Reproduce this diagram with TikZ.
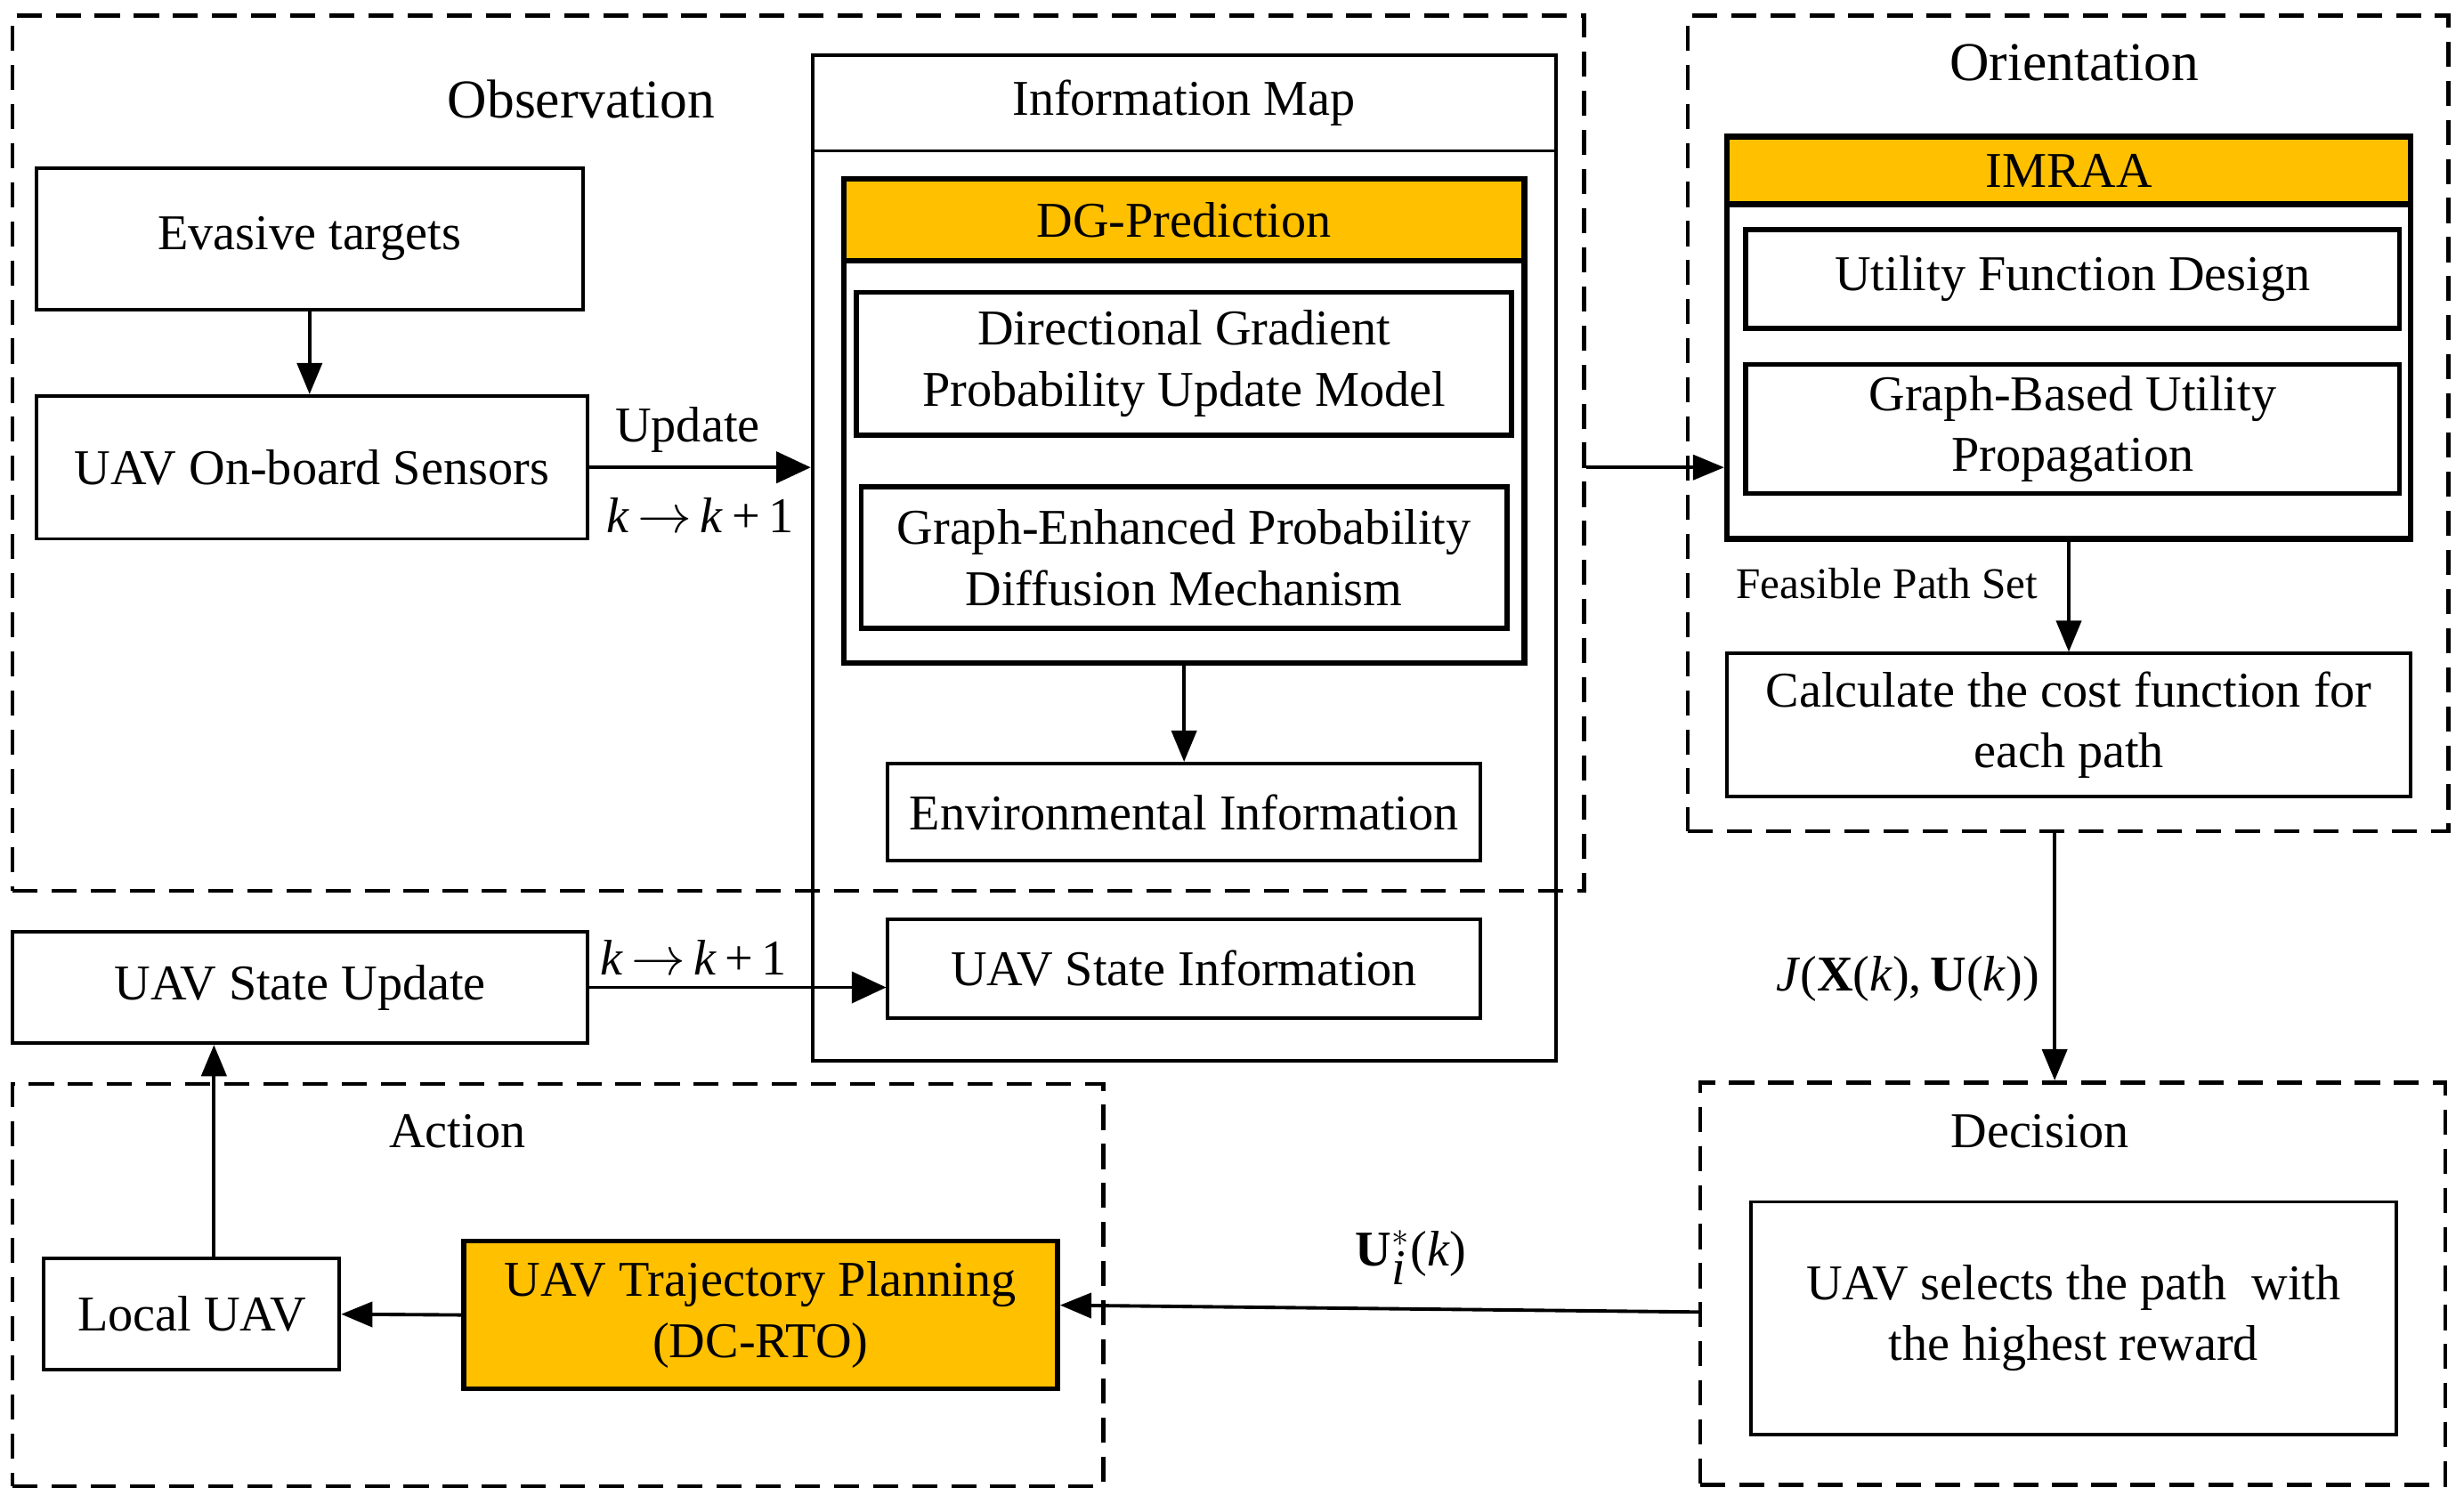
\documentclass[tikz,border=0pt]{standalone}
\usepackage{fontspec}
\setmainfont{Liberation Serif}
\usetikzlibrary{arrows.meta}
\definecolor{gold}{RGB}{255,192,0}
\newlength\pxu
\setlength\pxu{0.17653mm}

\begin{document}
\begin{tikzpicture}[x=\pxu, y=-\pxu,
      font=\fontsize{16}{19.5}\selectfont,
      size/.style 2 args={minimum width=#1*\pxu, minimum height=#2*\pxu},
      box/.style={rectangle, draw, line width=1.1pt, inner sep=0pt, align=center},
      inner/.style={box, line width=1.6pt},
      frame/.style={rectangle, draw, line width=1.8pt, inner sep=0pt},
      head/.style={frame, fill=gold, align=center},
      stage/.style={rectangle, draw, line width=1.3pt, dash pattern=on 8pt off 4.5pt, inner sep=0pt},
      title/.style={font=\fontsize{17.5}{21}\selectfont},
      arrow/.style={-{Triangle[length=10pt,width=8pt]}, line width=1.1pt},
      bigarrow/.style={arrow, -{Triangle[length=11pt,width=10pt]}}
  ]
  \useasboundingbox (0,0) rectangle (1568,957);

  % Stages
  \node[stage, size={1000}{557}] (obs) at (508,288.5) {};
  \node[title] (obslabel) at (370,63) {Observation};
  \node[stage, size={484}{519}] (orient) at (1316,269.5) {};
  \node[title] (orientlabel) at (1320,40) {Orientation};
  \node[stage, size={474}{256}] (decision) at (1319,817) {};
  \node (decisionlabel) at (1298,720) {Decision};
  \node[stage, size={694}{256}] (action) at (355,818) {};
  \node (actionlabel) at (291,720) {Action};

  % Observation
  \node[box, size={348}{90}] (evasive) at (197,152) {Evasive targets};
  \node[box, size={351}{91}] (sensors) at (198.5,297.5) {UAV On-board Sensors};

  % Information map
  \node[box, size={473}{640}] (infomap) at (753.5,355) {};
  \node[box, size={473}{61}] (infohead) at (753.5,65.5) {Information Map};
  \node[frame, size={433}{308}] (dg) at (753.5,268) {};
  \node[head, size={433}{52}] (dghead) at (753.5,140) {DG-Prediction};
  \node[inner, size={417}{91}] (dgpu) at (753.5,231.5) {Directional Gradient\\Probability Update Model};
  \node[inner, size={411}{90}] (gepd) at (753.5,355) {Graph-Enhanced Probability\\Diffusion Mechanism};
  \node[box, size={377}{62}] (env) at (753.5,517) {Environmental Information};
  \node[box, size={377}{63}] (stateinfo) at (753.5,616.5) {UAV State Information};

  % Orientation
  \node[frame, size={435}{256}] (imraa) at (1316.5,215) {};
  \node[head, size={435}{43}] (imraahead) at (1316.5,108.5) {IMRAA};
  \node[inner, size={416}{63}] (utility) at (1319,177.5) {Utility Function Design};
  \node[inner, size={416}{82}] (propagation) at (1319,273) {Graph-Based Utility\\Propagation};
  \node[box, size={435}{91}] (cost) at (1316.5,461.5) {Calculate the cost function for\\each path};

  % Decision
  \node[box, size={411}{148}] (select) at (1319.5,839) {UAV selects the path\ \ with\\the highest reward};

  % Action
  \node[box, fill=gold, line width=1.6pt, size={378}{94}] (traj) at (484,837) {UAV Trajectory Planning\\(DC-RTO)};
  \node[box, size={188}{71}] (local) at (122,836.5) {Local UAV};
  \node[box, size={366}{71}] (stateupd) at (191,628.5) {UAV State Update};

  % Arrows
  \draw[arrow] (evasive.south) -- (evasive.south |- sensors.north);
  \draw[bigarrow] (sensors.east) -- (sensors.east -| infomap.west)
    node[midway, above=1pt, xshift=-4pt] {Update}
    node[midway, below=6pt] {\textit{k}\,$\rightarrow$\,\textit{k}\,+\,1};
  \draw[arrow] (dg.south) -- (env.north);
  \draw[arrow] (obs.east |- sensors.east) -- (imraa.west |- sensors.east);
  \draw[arrow] (imraa.south) -- (cost.north)
    node[pos=.38, left=6pt, font=\fontsize{14}{17}\selectfont] {Feasible Path Set};
  \draw[arrow] ([xshift=-1.5mm]orient.south) -- ([xshift=-1.5mm]orient.south |- decision.north)
    node[pos=.59, left=1pt] {\textit{J}(\textbf{X}(\textit{k}),\,\textbf{U}(\textit{k}))};
  \draw[arrow] ([yshift=-3.2mm]decision.west) -- ([yshift=1.1mm]traj.east)
    node[pos=.45, above=4pt] {\textbf{U}$^{*}_{\textit{i}}$(\textit{k})};
  \draw[arrow] (traj.west) -- (local.east);
  \draw[arrow] ([xshift=2.5mm]local.north) -- ([xshift=2.5mm]local.north |- stateupd.south);
  \draw[bigarrow] (stateupd.east) -- (stateupd.east -| stateinfo.west)
    node[pos=.35, above] {\textit{k}\,$\rightarrow$\,\textit{k}\,+\,1};

\end{tikzpicture}
\end{document}
